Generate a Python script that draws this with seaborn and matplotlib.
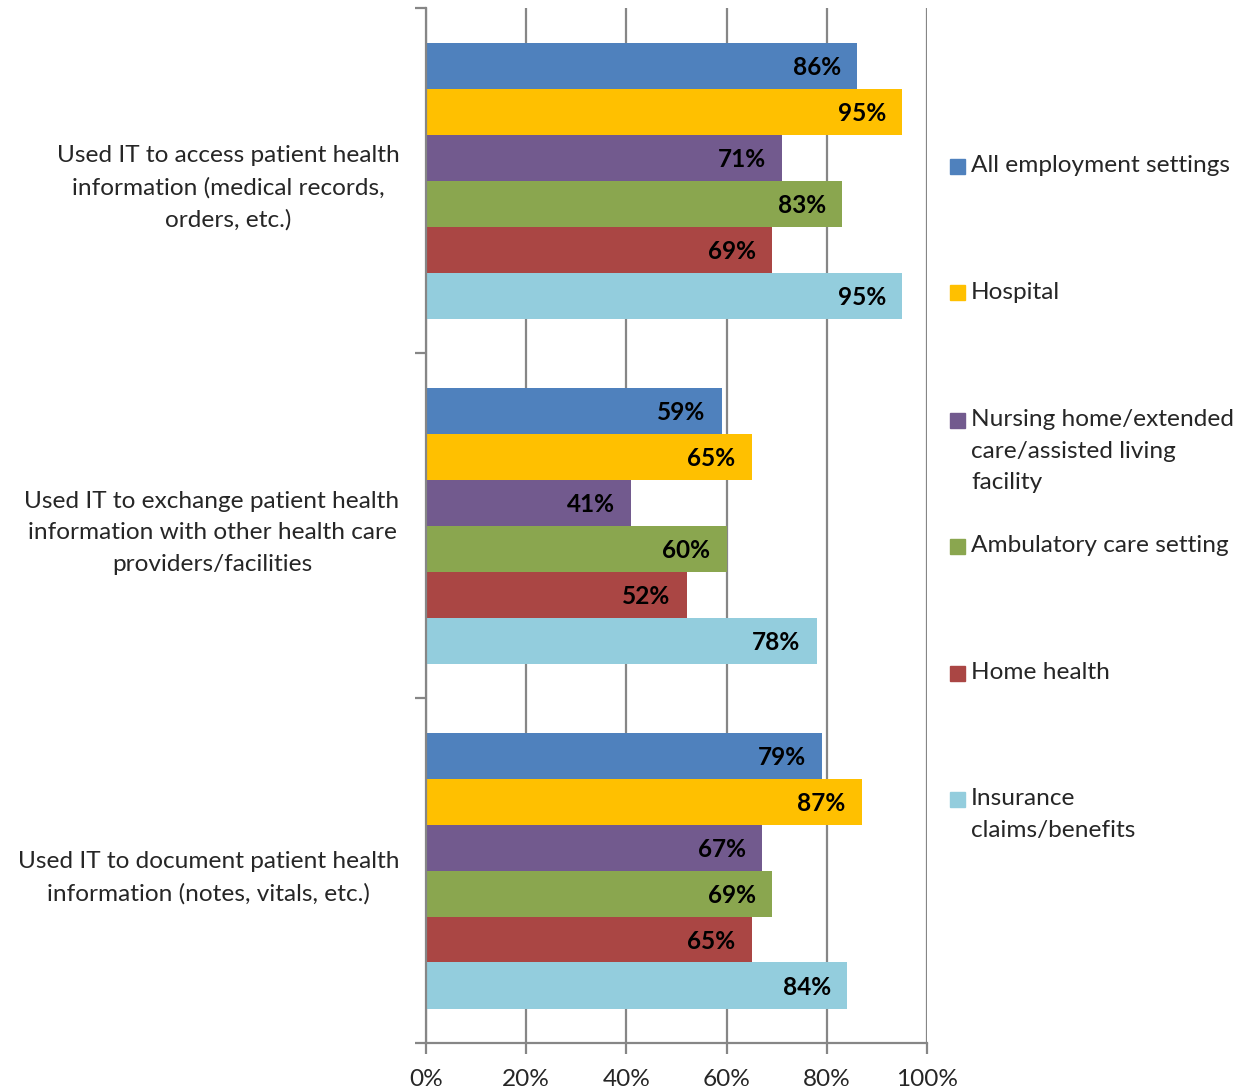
import numpy as np
import pandas as pd
import matplotlib
matplotlib.use("Agg")
import matplotlib.pyplot as plt
from matplotlib.patches import Rectangle
import seaborn as sns

# ---- data --------------------------------------------------------------------
activities = [
    "Used IT to access patient health\ninformation (medical records,\norders, etc.)",
    "Used IT to exchange patient health\ninformation with other health care\nproviders/facilities",
    "Used IT to document patient health\ninformation (notes, vitals, etc.)",
]
settings = [
    "All employment settings",
    "Hospital",
    "Nursing home/extended care/assisted living facility",
    "Ambulatory care setting",
    "Home health",
    "Insurance claims/benefits",
]
legend_text = [
    "All employment settings",
    "Hospital",
    "Nursing home/extended\ncare/assisted living\nfacility",
    "Ambulatory care setting",
    "Home health",
    "Insurance\nclaims/benefits",
]
all_settings = [86, 59, 79]
hospital = [95, 65, 87]
nursing = [71, 41, 67]
ambulatory = [83, 60, 69]
home_health = [69, 52, 65]
insurance = [95, 78, 84]
colors = ["#4F81BD", "#FFC000", "#725A8E", "#8AA64F", "#AA4644", "#93CDDD"]

series = [all_settings, hospital, nursing, ambulatory, home_health, insurance]
df = pd.DataFrame([
    {"activity": a, "setting": s, "pct": v}
    for s, vals in zip(settings, series)
    for a, v in zip(activities, vals)
])

# ---- figure ------------------------------------------------------------------
sns.set_style("white")
plt.rcParams["font.family"] = ["Lato", "DejaVu Sans"]
FS = 17.6
LS = 1.62
W, H = 1243, 1091
fig = plt.figure(figsize=(W / 100, H / 100), dpi=100)
ax = fig.add_axes([426 / W, 1 - 1043 / H, (927 - 426) / W, (1043 - 8) / H])

sns.barplot(data=df, y="activity", x="pct", hue="setting", order=activities,
            hue_order=settings, palette=colors, orient="h", width=0.8,
            saturation=1, legend=False, linewidth=0, ax=ax, zorder=2)

ax.set_xlim(0, 100)
ax.set_ylim(2.5, -0.5)
ax.set_xticks(np.arange(0, 101, 20))
ax.set_xticklabels([f"{t}%" for t in range(0, 101, 20)], fontsize=FS)
ax.xaxis.grid(True, color="#868686", lw=1.6, zorder=0)
ax.set_axisbelow(True)
ax.set_xlabel(""); ax.set_ylabel("")
for s in ["top", "right"]:
    ax.spines[s].set_visible(False)
for s in ["left", "bottom"]:
    ax.spines[s].set_color("#868686")
    ax.spines[s].set_linewidth(1.6)
ax.tick_params(axis="x", length=8, width=1.6, color="#868686", pad=11,
               bottom=True, direction="out")
ax.tick_params(axis="y", which="major", length=0, pad=19)
ax.set_yticks([-0.5, 0.5, 1.5, 2.5], minor=True)
ax.tick_params(axis="y", which="minor", length=8, width=1.6, color="#868686",
               left=True, direction="out")
for lb in ax.get_yticklabels():
    lb.set_fontsize(FS)
    lb.set_multialignment("center")
    lb.set_linespacing(LS)

# value labels inside bar ends
for cont, vals in zip(ax.containers, series):
    for bar, v in zip(cont, vals):
        y = bar.get_y() + bar.get_height() / 2
        ax.text(v - 3.2, y + 0.006, f"{v}%", ha="right", va="center",
                fontsize=FS, fontweight="bold", color="black", zorder=3)

# legend (Excel-style, spread along the right side)
ycent = [165, 292, 419, 545, 672, 798]
for c, lab, yc in zip(colors, legend_text, ycent):
    fig.patches.append(Rectangle((950 / W, 1 - (yc + 8.5) / H), 15 / W, 15 / H,
                                 transform=fig.transFigure, color=c))
    fig.text(971 / W, 1 - (yc - 10) / H, lab, ha="left", va="top",
             fontsize=FS, linespacing=LS)

fig.savefig("out.png", dpi=100)
